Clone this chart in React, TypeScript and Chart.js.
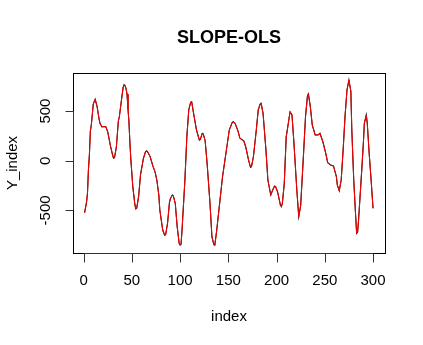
import React, { useEffect, useRef } from "react";
import { Chart, registerables } from "chart.js";

Chart.register(...registerables);

const chartTitle = "SLOPE-OLS";
const xAxisLabel = "index";
const yAxisLabel = "Y_index";
const xTickValues = [0, 50, 100, 150, 200, 250, 300];
const yTickValues = [-500, 0, 500];

const indexValues = [
  1, 3, 4, 5, 6, 7, 8, 10, 12, 14, 16, 17, 19, 21, 23, 25, 28, 30, 31, 32, 34, 36, 37, 39, 41, 42, 43,
  44, 45, 46, 47, 48, 49, 51, 53, 54, 55, 57, 59, 62, 64, 65, 66, 69, 72, 74, 76, 78, 79, 82, 84, 85, 87, 89, 90,
  92, 93, 95, 97, 99, 100, 101, 102, 105, 107, 109, 111, 112, 114, 117, 120, 121, 123, 124, 126, 128,
  131, 133, 135, 136, 138, 141, 144, 148, 151, 154, 155, 157, 160, 162, 166, 168, 171, 173, 174, 176,
  179, 181, 183, 184, 186, 189, 191, 194, 196, 198, 199, 201, 204, 205, 206, 208, 210, 211, 213, 214,
  216, 218, 221, 223, 225, 228, 230, 232, 233, 235, 237, 240, 243, 245, 248, 251, 253, 256, 259, 262,
  263, 265, 267, 269, 271, 273, 275, 277, 278, 280, 282, 283, 284, 285, 288, 290, 291, 293, 294, 296,
  298, 300,
];

const yIndexValues = [
  -525, -420, -330, -90, 60, 300, 360, 570, 618, 545, 420, 377, 340, 345, 342, 290, 141, 60, 25, 30, 141,
  400, 440, 594, 740, 765, 755, 725, 670, 520, 390, 180, 7, -262, -430, -485, -480, -362, -140, 24, 85, 98, 95, 40, -60,
  -110, -200, -350, -496, -698, -750, -745, -630, -420, -380, -345, -355, -430, -665, -830, -850, -840,
  -700, -194, 242, 511, 590, 594, 477, 309, 208, 215, 276, 270, 200, -26, -429, -765, -845, -850, -698,
  -429, -161, 108, 309, 385, 393, 377, 300, 226, 201, 141, 7, -66, -60, 40, 309, 511, 570, 578, 477, 108,
  -194, -345, -295, -255, -260, -312, -446, -463, -430, -228, 242, 300, 430, 493, 460, 180, -295, -564,
  -450, 75, 443, 650, 672, 544, 360, 259, 259, 276, 191, 75, -20, -43, -53, -160, -245, -302, -194, 108,
  450, 712, 813, 700, 309, -194, -560, -731, -720, -597, -140, 180, 377, 460, 380, 75, -194, -479,
];

const FONT = "'Liberation Sans', Arial, sans-serif";

const rAxesPlugin = {
  id: "rAxes",
  afterDraw(chart: any) {
    const { ctx, chartArea } = chart;
    const xs = chart.scales.x;
    const ys = chart.scales.y;
    const { left, right, top, bottom } = chartArea;
    ctx.save();
    ctx.strokeStyle = "#000";
    ctx.lineWidth = 1;
    ctx.strokeRect(Math.round(left) + 0.5, Math.round(top) + 0.5, Math.round(right - left), Math.round(bottom - top));

    ctx.strokeStyle = "#333";
    const xb = Math.round(bottom) + 0.5;
    ctx.beginPath();
    ctx.moveTo(xs.getPixelForValue(xTickValues[0]), xb);
    ctx.lineTo(xs.getPixelForValue(xTickValues[xTickValues.length - 1]), xb);
    xTickValues.forEach((v) => {
      const px = Math.round(xs.getPixelForValue(v)) + 0.5;
      ctx.moveTo(px, xb);
      ctx.lineTo(px, xb + 9);
    });
    ctx.stroke();
    const yl = Math.round(left) + 0.5;
    ctx.beginPath();
    ctx.moveTo(yl, ys.getPixelForValue(yTickValues[0]));
    ctx.lineTo(yl, ys.getPixelForValue(yTickValues[yTickValues.length - 1]));
    yTickValues.forEach((v) => {
      const py = Math.round(ys.getPixelForValue(v)) + 0.5;
      ctx.moveTo(yl, py);
      ctx.lineTo(yl - 8, py);
    });
    ctx.stroke();

    ctx.fillStyle = "#000";
    ctx.font = `15px ${FONT}`;
    ctx.textAlign = "center";
    ctx.textBaseline = "middle";
    xTickValues.forEach((v) => {
      ctx.fillText(String(v), xs.getPixelForValue(v), bottom + 28);
    });
    yTickValues.forEach((v) => {
      ctx.save();
      ctx.translate(left - 27, ys.getPixelForValue(v));
      ctx.rotate(-Math.PI / 2);
      ctx.fillText(String(v), 0, 0);
      ctx.restore();
    });

    ctx.fillText(xAxisLabel, (left + right) / 2, bottom + 64);
    ctx.save();
    ctx.translate(left - 60, (top + bottom) / 2);
    ctx.rotate(-Math.PI / 2);
    ctx.fillText(yAxisLabel, 0, 0);
    ctx.restore();

    ctx.font = `bold 18px ${FONT}`;
    ctx.fillText(chartTitle, (left + right) / 2, 38);
    ctx.restore();
  },
};

export default function App() {
  const canvasRef = useRef<HTMLCanvasElement | null>(null);

  useEffect(() => {
    const canvas = canvasRef.current;
    if (!canvas) return;
    const pointsBlack = indexValues.map((x, i) => ({ x, y: yIndexValues[i] }));
    const pointsRed = indexValues.map((x, i) => ({ x, y: yIndexValues[i] }));
    const chart = new Chart(canvas, {
      type: "line",
      data: {
        datasets: [
          {
            label: "SLOPE-OLS",
            data: pointsRed,
            borderColor: "#FF0000",
            borderWidth: 1,
            pointRadius: 0,
            tension: 0,
            fill: false,
          },
          {
            label: "Y_index",
            data: pointsBlack,
            borderColor: "#000000",
            borderWidth: 1.1,
            pointRadius: 0,
            tension: 0,
            fill: false,
          },
        ],
      },
      options: {
        animation: false,
        responsive: false,
        devicePixelRatio: 1,
        layout: { padding: { left: 73, right: 38, top: 73, bottom: 92 } },
        plugins: {
          legend: { display: false },
          title: { display: false },
          tooltip: { enabled: false },
        },
        scales: {
          x: { type: "linear", min: -11, max: 312.4, display: false },
          y: { type: "linear", min: -929, max: 883, display: false },
        },
      },
      plugins: [rAxesPlugin],
    });
    return () => chart.destroy();
  }, []);

  return (
    <div style={{ position: "absolute", left: 0, top: 0, width: 423, height: 345, background: "#fff" }}>
      <canvas ref={canvasRef} width={423} height={345} style={{ width: 423, height: 345, display: "block" }} />
    </div>
  );
}
